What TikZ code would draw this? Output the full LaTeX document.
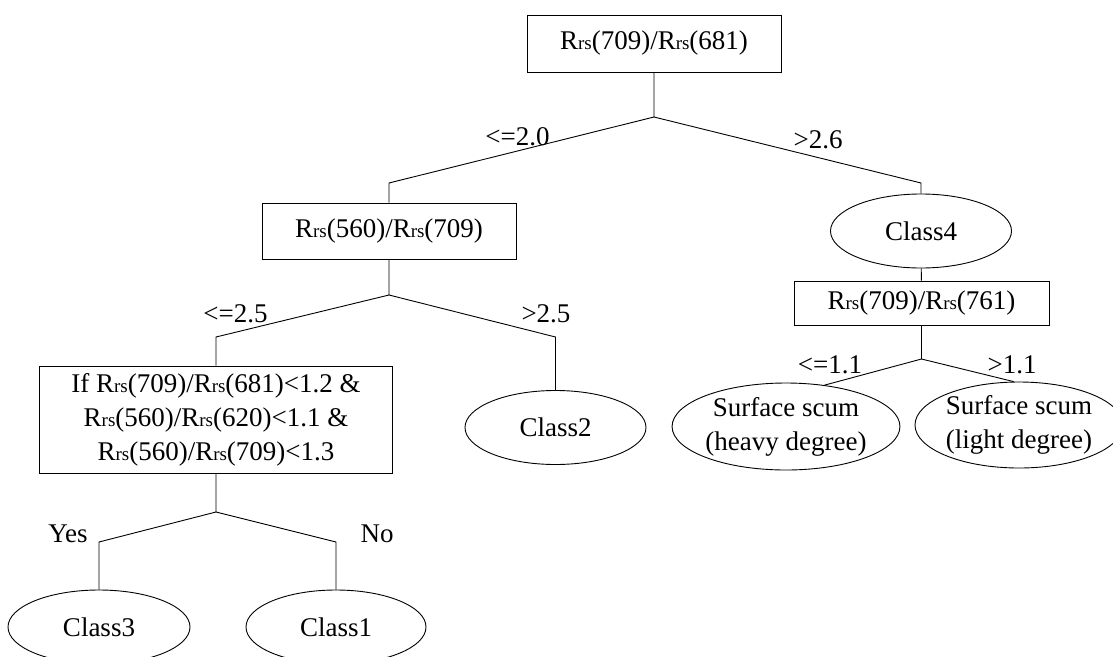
\documentclass[tikz,border=0pt]{standalone}
\usepackage{fontspec}
\setmainfont{Liberation Serif}
\usetikzlibrary{shapes,positioning}
\newcommand{\Rrs}{R{\fontsize{19}{19}\selectfont rs}}
\tikzstyle{test}=[draw,rectangle,inner sep=0pt,line width=0.9pt]
\tikzstyle{leaf}=[draw,ellipse,inner sep=0pt,line width=0.9pt,
  minimum width=181pt,minimum height=74pt]
\tikzstyle{branch}=[line width=0.9pt]
\tikzstyle{cond}=[anchor=base,inner sep=0pt]

\begin{document}
\begin{tikzpicture}[x=1pt,y=-1pt,
    every node/.style={font=\fontsize{27}{34}\selectfont}]
  \useasboundingbox (0,0) rectangle (1113,656);

  % tests
  \node[test, minimum width=254pt, minimum height=57pt] (root) at (654,43.5)
    {\Rrs(709)/\Rrs(681)};
  \node[test, minimum width=254pt, minimum height=56pt] (sec) at (389,231)
    {\Rrs(560)/\Rrs(709)};
  \node[test, minimum width=353pt, minimum height=107pt, align=center] (iftest)
    at (216,419.5)
    {If \Rrs(709)/\Rrs(681)<1.2 \&\\ \Rrs(560)/\Rrs(620)<1.1 \&\\ \Rrs(560)/\Rrs(709)<1.3};
  \node[test, minimum width=255pt, minimum height=44pt] (scum) at (921.5,303)
    {\Rrs(709)/\Rrs(761)};

  % classes
  \node[leaf] (c4) at (921,231) {Class4};
  \node[leaf] (c2) at (555.5,427.5) {Class2};
  \node[leaf, minimum width=182pt] (c3) at (99,627) {Class3};
  \node[leaf, minimum width=180pt] (c1) at (336,627) {Class1};
  \node[leaf, minimum width=222pt, minimum height=87pt, align=center] (heavy)
    at (786,426.5) {Surface scum\\(heavy degree)};
  \node[leaf, minimum width=208pt, minimum height=86pt, align=center] (light)
    at (1019,425) {Surface scum\\(light degree)};

  % split points and knees
  \coordinate (s1) at (654,117);
  \coordinate (k1l) at (389,183);
  \coordinate (k1r) at (921,183);
  \coordinate (s2) at (389,295);
  \coordinate (k2l) at (216,337);
  \coordinate (k2r) at (555.5,337);
  \coordinate (s3) at (216,512);
  \coordinate (k3l) at (99,542);
  \coordinate (k3r) at (336,542);
  \coordinate (s4) at (921.5,359);

  \draw[branch] (root) -- (s1) -- (k1l) -- (sec) (s1) -- (k1r) -- (c4);
  \draw[branch] (c4) -- (scum);
  \draw[branch] (sec) -- (s2) -- (k2l) -- (iftest) (s2) -- (k2r) -- (c2);
  \draw[branch] (iftest) -- (s3) -- (k3l) -- (c3) (s3) -- (k3r) -- (c1);
  \draw[branch] (scum) -- (s4) -- (heavy.47) (s4) -- (light.97);

  % thresholds
  \node[cond] (t1) at (517.5,145) {<=2.0};
  \node[cond] (t2) at (818,148) {>2.6};
  \node[cond] (t3) at (235.5,322) {<=2.5};
  \node[cond] (t4) at (546,322) {>2.5};
  \node[cond] (t5) at (68,542) {Yes};
  \node[cond] (t6) at (377,542) {No};
  \node[cond] (t7) at (830,373) {<=1.1};
  \node[cond] (t8) at (1012,373) {>1.1};
\end{tikzpicture}
\end{document}
